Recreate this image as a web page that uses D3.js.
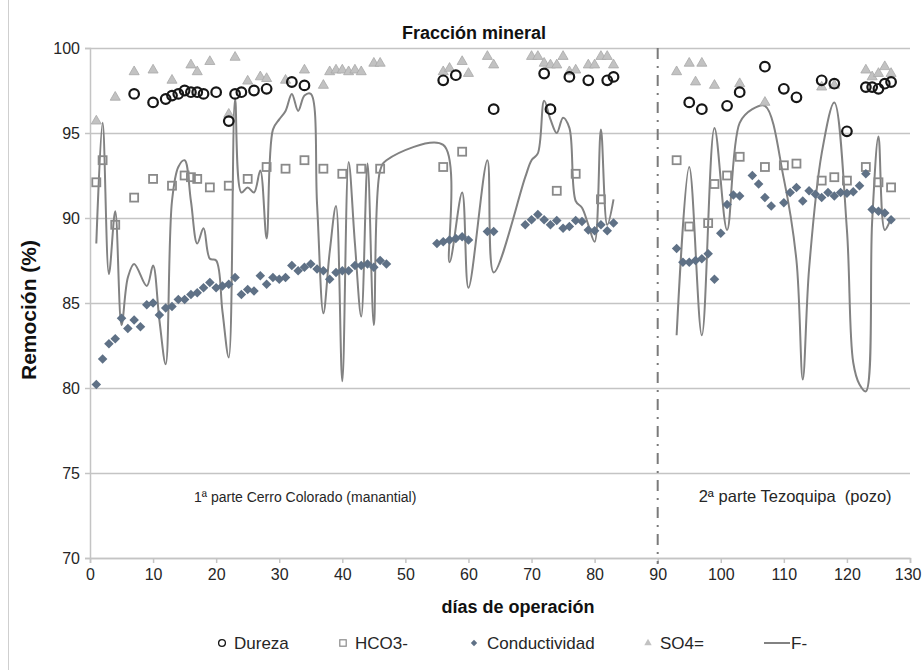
<!DOCTYPE html>
<html>
<head>
<meta charset="utf-8">
<script src="https://cdn.jsdelivr.net/npm/d3@7"></script>
<style>
  html, body { margin: 0; padding: 0; background: #fff; }
  svg { display: block; font-family: "Liberation Sans", Arial, sans-serif; }
</style>
</head>
<body>
<svg id="chart" width="922" height="670"></svg>
<script>
// Remoción por día de operación, fracción mineral
const xTicks = [0, 10, 20, 30, 40, 50, 60, 70, 80, 90, 100, 110, 120, 130];
const yTicks = [70, 75, 80, 85, 90, 95, 100];

const durezaDia = [7,10,12,13,14,15,16,17,18,20,22,23,24,26,28,32,34,56,58,64,72,73,76,79,82,83,95,97,101,103,107,110,112,116,118,120,123,124,125,126,127];
const durezaVal = [97.3,96.8,97.0,97.2,97.3,97.5,97.4,97.4,97.3,97.4,95.7,97.3,97.4,97.5,97.6,98.0,97.8,98.1,98.4,96.4,98.5,96.4,98.3,98.1,98.1,98.3,96.8,96.4,96.6,97.4,98.9,97.6,97.1,98.1,97.9,95.1,97.7,97.7,97.6,97.9,98.0];

const hco3Dia = [1,2,4,7,10,13,15,16,17,19,22,25,28,31,34,37,40,43,46,56,59,74,77,81,93,95,98,99,101,103,107,110,112,116,118,120,123,125,127];
const hco3Val = [92.1,93.4,89.6,91.2,92.3,91.9,92.5,92.4,92.3,91.8,91.9,92.3,93.0,92.9,93.4,92.9,92.6,92.9,92.9,93.0,93.9,91.6,92.6,91.1,93.4,89.5,89.7,92.0,92.5,93.6,93.0,93.1,93.2,92.2,92.4,92.2,93.0,92.1,91.8];

const condDia = [1,2,3,4,5,6,7,8,9,10,11,12,13,14,15,16,17,18,19,20,21,22,23,24,25,26,27,28,29,30,31,32,33,34,35,36,37,38,39,40,41,42,43,44,45,46,47,
  55,56,57,58,59,60,63,64,69,70,71,72,73,74,75,76,77,78,79,80,81,82,83,
  93,94,95,96,97,98,99,100,101,102,103,105,106,107,108,110,111,112,113,114,115,116,117,118,119,120,121,122,123,124,125,126,127];
const condVal = [80.2,81.7,82.6,82.9,84.1,83.5,84.0,83.6,84.9,85.0,84.3,84.7,84.8,85.2,85.2,85.5,85.6,85.9,86.2,85.9,86.0,86.1,86.5,85.5,85.8,85.7,86.6,86.1,86.5,86.4,86.5,87.2,86.9,87.1,87.3,87.0,86.9,86.4,86.8,86.9,86.9,87.2,87.2,87.3,87.1,87.5,87.3,
  88.5,88.6,88.7,88.8,88.9,88.7,89.2,89.2,89.6,89.9,90.2,89.9,89.6,89.85,89.4,89.5,89.85,89.8,89.3,89.25,89.6,89.25,89.7,
  88.2,87.4,87.4,87.5,87.6,87.9,86.4,89.1,90.8,91.35,91.3,92.5,92.0,91.2,90.7,90.9,91.5,91.8,91.0,91.6,91.4,91.2,91.5,91.3,91.5,91.45,91.55,91.9,92.6,90.5,90.4,90.3,89.9];

const so4Dia = [1,4,7,10,13,16,17,19,22,23,25,27,28,31,34,37,38,39,40,41,42,43,45,46,56,57,59,60,63,64,70,71,72,73,74,75,76,77,79,80,81,82,83,93,95,96,97,99,103,107,116,118,123,124,125,126,127];
const so4Val = [95.7,97.1,98.6,98.7,98.1,99.0,98.6,99.2,96.1,99.45,98.05,98.3,98.2,98.1,98.7,97.8,98.6,98.7,98.7,98.6,98.7,98.6,99.1,99.1,98.6,98.8,99.2,98.5,99.5,99.0,99.5,99.5,99.1,99.0,99.0,99.5,98.6,98.7,99.0,99.0,99.5,99.5,99.0,98.6,99.1,98.0,99.1,97.8,97.9,96.8,97.7,97.8,98.7,98.3,98.5,98.9,98.5];

// F- : two campaigns, drawn as separate smoothed segments
const fDia1 = [1,2,3,4,5,6,7,9,10,11,12,13,14,15,16,17,18,19,20,21,22,23,24,25,26,27,28,29,30,31,32,33,34,35,36,37,38,39,40,41,42,43,44,45,46,47,56,57,59,60,63,64,69,70,71,72,73,74,75,76,77,78,79,80,81,82,83];
const fVal1 = [88.5,95.6,86.7,90.4,83.7,86.5,87.3,86.0,87.2,84.0,81.4,91.0,93.0,93.4,91.0,88.5,89.4,87.6,87.5,84.5,81.8,97.0,91.5,91.8,91.5,92.8,88.8,95.2,95.8,96.3,97.3,96.3,97.2,97.3,90.8,84.4,88.0,90.7,80.4,93.3,88.5,84.2,93.2,83.7,92.8,93.4,94.3,87.4,91.5,85.9,93.4,86.8,92.4,93.4,93.8,96.9,95.8,95.0,95.9,95.3,91.0,90.6,89.6,88.6,95.2,89.6,91.1];
const fDia2 = [93,95,97,99,101,103,105,107,110,112,113,114,116,118,120,121,122,123,124,125,126,127];
const fVal2 = [83.1,93.0,83.1,95.3,89.3,95.6,96.4,96.6,92.3,87.5,80.5,87.0,93.8,96.8,89.3,81.5,80.2,79.8,89.8,94.8,89.3,90.0];

const divisionDia = 90;
const etiquetas = [
  { dia: 16.5, size: 14, txt: "1ª parte Cerro Colorado (manantial)" },
  { dia: 96.5, size: 16.5, txt: "2ª parte Tezoquipa  (pozo)" }
];

const svg = d3.select("#chart");
const x = d3.scaleLinear().domain([0, 130]).range([90, 910]);
const y = d3.scaleLinear().domain([70, 100]).range([558, 48]);

const gridColor = "#c4c4c4";
const textColor = "#262626";

// chart border (left edge)
svg.append("line").attr("x1", 8.5).attr("x2", 8.5).attr("y1", 0).attr("y2", 670)
  .attr("stroke", "#cfcfcf").attr("stroke-width", 1);

// horizontal gridlines + y ticks
const yAxis = svg.append("g").attr("transform", "translate(90,0)")
  .call(d3.axisLeft(y).tickValues(yTicks).tickSize(5).tickPadding(5).tickFormat(d3.format("d")));
yAxis.select(".domain").attr("stroke", gridColor).attr("stroke-width", 1.5);
yAxis.selectAll(".tick line").attr("stroke", gridColor).attr("stroke-width", 1.5)
  .attr("x2", -5).clone().attr("x1", 0).attr("x2", x(130) - 90);
yAxis.selectAll(".tick text").attr("fill", textColor).style("font-size", "16px");

// x axis
const xAxis = svg.append("g").attr("transform", "translate(0,558)")
  .call(d3.axisBottom(x).tickValues(xTicks).tickSize(5).tickPadding(6).tickFormat(d3.format("d")));
xAxis.select(".domain").attr("stroke", gridColor).attr("stroke-width", 1.5);
xAxis.selectAll(".tick line").attr("stroke", gridColor).attr("stroke-width", 1.5);
xAxis.selectAll(".tick text").attr("fill", textColor).style("font-size", "16px");
// keep the last label inside the frame
xAxis.selectAll(".tick text").filter(d => d === 130).attr("text-anchor", "end").attr("x", 921 - x(130));
svg.selectAll(".domain").attr("d", function () { return d3.select(this).attr("d").replace(/V-?\d+(\.\d+)?H0\.5V-?\d+(\.\d+)?$/, ""); });

// division line between campaigns
svg.append("line")
  .attr("x1", x(divisionDia)).attr("x2", x(divisionDia))
  .attr("y1", y(100)).attr("y2", y(70) + 6)
  .attr("stroke", "#7a7a7a").attr("stroke-width", 2)
  .attr("stroke-dasharray", "11,7,2,7");

// campaign labels
svg.selectAll("text.etq").data(etiquetas).join("text")
  .attr("class", "etq")
  .attr("x", d => x(d.dia)).attr("y", 502)
  .attr("fill", textColor).style("font-size", d => d.size + "px")
  .style("white-space", "pre")
  .text(d => d.txt);

// F- smoothed line
const linea = d3.line().x(d => x(d[0])).y(d => y(d[1])).curve(d3.curveCatmullRom.alpha(0.5));
[[fDia1, fVal1], [fDia2, fVal2]].forEach(([dd, vv]) => {
  svg.append("path").datum(dd.map((d, i) => [d, vv[i]]))
    .attr("d", linea).attr("fill", "none")
    .attr("stroke", "#828282").attr("stroke-width", 2);
});

// HCO3- squares
svg.append("g").selectAll("rect").data(hco3Dia.map((d, i) => [d, hco3Val[i]])).join("rect")
  .attr("x", d => x(d[0]) - 4).attr("y", d => y(d[1]) - 4)
  .attr("width", 8).attr("height", 8)
  .attr("fill", "none").attr("stroke", "#8a8a8a").attr("stroke-width", 1.8);

// Conductividad diamonds
const diamante = d3.symbol().type(d3.symbolDiamond2).size(58);
svg.append("g").selectAll("path").data(condDia.map((d, i) => [d, condVal[i]])).join("path")
  .attr("transform", d => `translate(${x(d[0])},${y(d[1])})`)
  .attr("d", diamante).attr("fill", "#5f7186");

// SO4= triangles
const triangulo = d3.symbol().type(d3.symbolTriangle).size(44);
svg.append("g").selectAll("path").data(so4Dia.map((d, i) => [d, so4Val[i]])).join("path")
  .attr("transform", d => `translate(${x(d[0])},${y(d[1])})`)
  .attr("d", triangulo).attr("fill", "#c2c2c2").attr("stroke", "#a8a8a8").attr("stroke-width", 0.8);

// Dureza circles
svg.append("g").selectAll("circle").data(durezaDia.map((d, i) => [d, durezaVal[i]])).join("circle")
  .attr("cx", d => x(d[0])).attr("cy", d => y(d[1])).attr("r", 4.8)
  .attr("fill", "none").attr("stroke", "#161616").attr("stroke-width", 2.2);

// titles
svg.append("text").attr("x", 474).attr("y", 39).attr("text-anchor", "middle")
  .attr("fill", "#111").style("font-size", "18px").style("font-weight", "bold").text("Fracción mineral");
svg.append("text").attr("transform", "translate(36,310) rotate(-90)").attr("text-anchor", "middle")
  .attr("fill", "#111").style("font-size", "21px").style("font-weight", "bold").text("Remoción (%)");
svg.append("text").attr("x", 518).attr("y", 613).attr("text-anchor", "middle")
  .attr("fill", "#111").style("font-size", "18px").style("font-weight", "bold").text("días de operación");

// legend
const ley = svg.append("g").attr("transform", "translate(0,643)");
const leyItems = [
  { nombre: "Dureza", mx: 222, tx: 234 },
  { nombre: "HCO3-", mx: 343, tx: 355 },
  { nombre: "Conductividad", mx: 474, tx: 487 },
  { nombre: "SO4=", mx: 648, tx: 660 },
  { nombre: "F-", mx: 777, tx: 791 }
];
ley.append("circle").attr("cx", leyItems[0].mx).attr("cy", 0).attr("r", 3.4)
  .attr("fill", "none").attr("stroke", "#161616").attr("stroke-width", 1.3);
ley.append("rect").attr("x", leyItems[1].mx - 3.2).attr("y", -3.2).attr("width", 6.4).attr("height", 6.4)
  .attr("fill", "none").attr("stroke", "#8a8a8a").attr("stroke-width", 1.2);
ley.append("path").attr("transform", `translate(${leyItems[2].mx},0)`)
  .attr("d", d3.symbol().type(d3.symbolDiamond2).size(26)).attr("fill", "#5f7186");
ley.append("path").attr("transform", `translate(${leyItems[3].mx},0)`)
  .attr("d", d3.symbol().type(d3.symbolTriangle).size(24)).attr("fill", "#c2c2c2");
ley.append("line").attr("x1", 764).attr("x2", 790).attr("y1", 0).attr("y2", 0)
  .attr("stroke", "#828282").attr("stroke-width", 2);
ley.selectAll("text").data(leyItems).join("text")
  .attr("x", d => d.tx).attr("y", 6)
  .attr("fill", textColor).style("font-size", "17px")
  .text(d => d.nombre);
</script>
</body>
</html>
